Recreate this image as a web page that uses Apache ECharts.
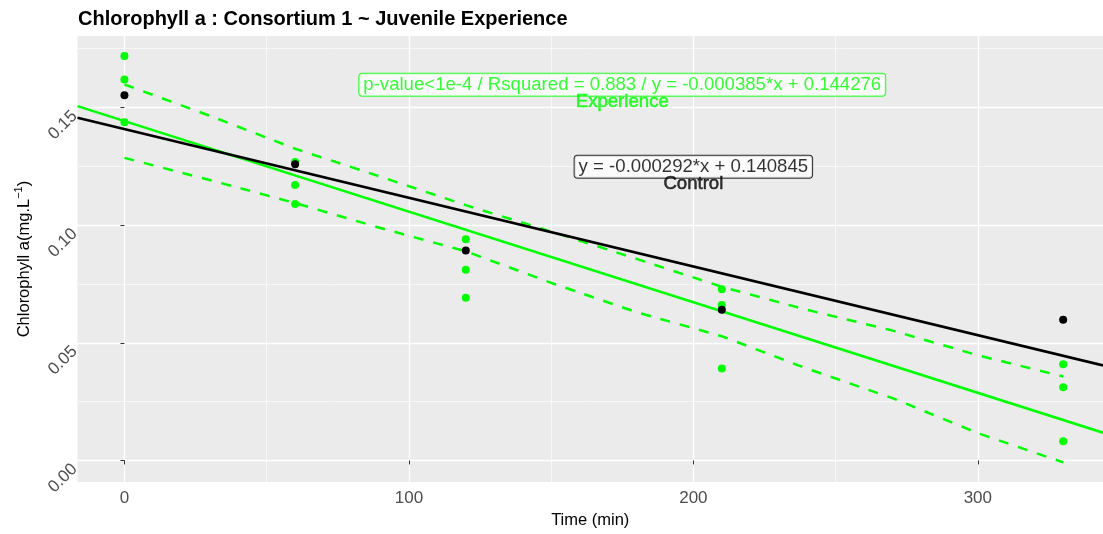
<!DOCTYPE html>
<html>
<head>
<meta charset="utf-8">
<script src="https://cdn.jsdelivr.net/npm/echarts@6/dist/echarts.min.js"></script>
<style>
html,body{margin:0;padding:0;background:#fff}
#main{width:1103px;height:534px}
</style>
</head>
<body>
<div id="main"></div>
<script>
// values
var timeExp = [0,0,0, 60,60,60, 120,120,120, 210,210,210, 330,330,330];
var chlExp = [0.1719,0.1619,0.1437, 0.1269,0.1171,0.1090, 0.0940,0.0810,0.0692, 0.0728,0.0661,0.0391, 0.0409,0.0311,0.0082];
var timeCtrl = [0,60,120,210,330];
var chlCtrl = [0.1552,0.1259,0.0892,0.0640,0.0598];

var bandTime = [0,30,60,90,120,150,180,210,240,270,300,330];
var bandUpper = [0.1598,0.1465,0.1325,0.1206,0.1085,0.0973,0.0857,0.0738,0.0640,0.0552,0.0447,0.0357];
var bandLower = [0.1286,0.1192,0.1094,0.0988,0.0889,0.0755,0.0630,0.0528,0.0390,0.0265,0.0116,-0.0008];

var fitTime = [-16.5, 344];
var fitExp = [0.1506, 0.0118];
var fitCtrl = [0.1457, 0.0404];

var xTicks = [0,100,200,300];
var xMinor = [50,150,250];
var yTicks = [0,0.05,0.10,0.15];
var yMinor = [0.025,0.075,0.125,0.175];

var boxText = ['p-value<1e-4 / Rsquared = 0.883 / y = -0.000385*x + 0.144276', 'y = -0.000292*x + 0.140845'];
var boxPos = [[175,0.1597],[200,0.1248]];
var groupText = ['Experience','Control'];
var groupPos = [[175,0.1524],[200,0.1174]];

var GREEN = '#00ff00';
var FONT = 'Liberation Sans';

function pairs(xs, ys) {
	var out = [];
	for (var i = 0; i < xs.length; i++) out.push([xs[i], ys[i]]);
	return out;
}

var chart = echarts.init(document.getElementById('main'));
var option = {
	animation: false,
	title: {
		text: 'Chlorophyll a : Consortium 1 ~ Juvenile Experience',
		left: 73, top: 4,
		textStyle: {fontFamily: FONT, fontSize: 20, fontWeight: 'bold', color: '#000'}
	},
	grid: {left: 77.5, right: 0, top: 36, bottom: 46, show: true, backgroundColor: '#ebebeb', borderWidth: 0},
	xAxis: [{
		type: 'value', min: -16.5, max: 344,
		axisLine: {show: false},
		axisTick: {show: true, customValues: xTicks, length: 4, lineStyle: {color: '#333'}},
		axisLabel: {customValues: xTicks, fontFamily: FONT, fontSize: 17, color: '#4d4d4d', margin: 8},
		splitLine: {show: true, lineStyle: {color: '#fff', width: 1.3}},
		name: 'Time (min)', nameLocation: 'middle', nameGap: 28,
		nameTextStyle: {fontFamily: FONT, fontSize: 16.5, color: '#000'}
	}, {
		type: 'value', min: -16.5, max: 344, position: 'bottom',
		axisLine: {show: false}, axisLabel: {show: false},
		axisTick: {show: false, customValues: xMinor},
		splitLine: {show: true, lineStyle: {color: '#fff', width: 0.6}}
	}],
	yAxis: [{
		type: 'value', min: -0.0092, max: 0.1804,
		axisLine: {show: false},
		axisTick: {show: true, customValues: yTicks, length: 4, lineStyle: {color: '#333'}},
		axisLabel: {
			customValues: yTicks, rotate: 45, fontFamily: FONT, fontSize: 17, color: '#4d4d4d',
			margin: 9, verticalAlign: 'top',
			formatter: function (v) { return v.toFixed(2); }
		},
		splitLine: {show: true, lineStyle: {color: '#fff', width: 1.3}},
		name: '{n|Chlorophyll a(mg.L}{s|\u22121}{n|)}', nameLocation: 'middle', nameGap: 42,
		nameTextStyle: {
			fontFamily: FONT, color: '#000',
			rich: {
				n: {fontFamily: FONT, fontSize: 16.5, color: '#000', lineHeight: 22},
				s: {fontFamily: FONT, fontSize: 11, color: '#000', verticalAlign: 'top', lineHeight: 22}
			}
		}
	}, {
		type: 'value', min: -0.0092, max: 0.1804, position: 'left',
		axisLine: {show: false}, axisLabel: {show: false},
		axisTick: {show: false, customValues: yMinor},
		splitLine: {show: true, lineStyle: {color: '#fff', width: 0.6}}
	}],
	series: [{
		type: 'scatter', data: pairs(timeExp, chlExp), symbolSize: 8,
		itemStyle: {color: GREEN, opacity: 1}, z: 2
	}, {
		type: 'line', data: pairs(bandTime, bandUpper), showSymbol: false,
		lineStyle: {color: GREEN, width: 2.5, type: [10, 10]}, z: 3
	}, {
		type: 'line', data: pairs(bandTime, bandLower), showSymbol: false,
		lineStyle: {color: GREEN, width: 2.5, type: [10, 10]}, z: 3
	}, {
		type: 'line', data: pairs(fitTime, fitExp), showSymbol: false,
		lineStyle: {color: GREEN, width: 2.6}, z: 3
	}, {
		type: 'line', data: pairs(fitTime, fitCtrl), showSymbol: false,
		lineStyle: {color: '#000', width: 2.6}, z: 4
	}, {
		type: 'scatter', data: pairs(timeCtrl, chlCtrl), symbolSize: 8,
		itemStyle: {color: '#000', opacity: 1}, z: 5
	}, {
		type: 'scatter', symbolSize: 0, z: 6,
		label: {
			show: true, position: 'inside',
			formatter: function (p) { return boxText[p.dataIndex]; },
			fontFamily: FONT, fontSize: 18.6, backgroundColor: '#fff', borderWidth: 1,
			borderRadius: 3, padding: [2, 4, 1, 4]
		},
		data: [
			{value: boxPos[0], label: {color: GREEN, borderColor: GREEN}},
			{value: boxPos[1], label: {color: '#000', borderColor: '#000'}}
		]
	}, {
		type: 'scatter', symbolSize: 0, z: 7,
		label: {
			show: true, position: 'inside',
			formatter: function (p) { return groupText[p.dataIndex]; },
			fontFamily: FONT, fontSize: 18.6, textBorderWidth: 0.5
		},
		data: [
			{value: groupPos[0], label: {color: GREEN, textBorderColor: GREEN}},
			{value: groupPos[1], label: {color: '#000', textBorderColor: '#000'}}
		]
	}]
};
chart.setOption(option);
</script>
</body>
</html>
